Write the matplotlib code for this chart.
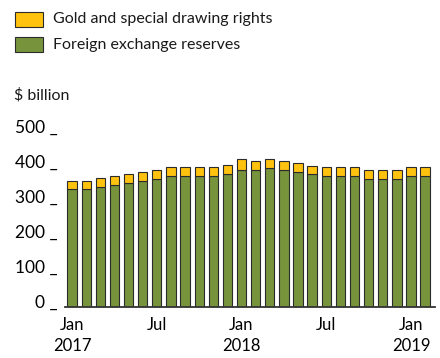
import numpy as np
import matplotlib.pyplot as plt
from matplotlib.patches import Rectangle

# Monthly reserves, Jan 2017 - Feb 2019, $ billion
months = ['Jan 2017', 'Feb', 'Mar', 'Apr', 'May', 'Jun', 'Jul', 'Aug', 'Sep', 'Oct', 'Nov', 'Dec',
          'Jan 2018', 'Feb', 'Mar', 'Apr', 'May', 'Jun', 'Jul', 'Aug', 'Sep', 'Oct', 'Nov', 'Dec',
          'Jan 2019', 'Feb']
forex = [338, 338, 345, 350, 356, 362, 367, 375, 375, 375, 376, 381,
         393, 392, 399, 393, 386, 381, 375, 375, 375, 367, 367, 367,
         375, 375]
gold_sdr = [24, 24, 23, 25, 25, 25, 26, 25, 25, 25, 24, 25,
            30, 26, 25, 25, 25, 23, 25, 25, 25, 26, 26, 26,
            25, 25]
tick_pos = [0, 6, 12, 18, 24]
tick_labels = ['Jan\n2017', 'Jul', 'Jan\n2018', 'Jul', 'Jan\n2019']
yticks = [0, 100, 200, 300, 400, 500]

GREEN = '#77933c'
YELLOW = '#ffc20f'
EDGE = '#2b2b2b'

plt.rcParams['font.family'] = ['Lato', 'DejaVu Sans']
plt.rcParams['text.color'] = '#1a1a1a'


def main():
    fig = plt.figure(figsize=(4.4, 3.58), dpi=100)
    ax = fig.add_axes([65 / 440, 50.7 / 358, 370 / 440, 175 / 358])

    x = np.arange(len(months))
    ax.bar(x, forex, width=0.66, color=GREEN, edgecolor=EDGE, linewidth=0.8)
    ax.bar(x, gold_sdr, bottom=forex, width=0.66, color=YELLOW, edgecolor=EDGE, linewidth=0.8)

    ax.set_xlim(-0.5, 25.7)
    ax.set_ylim(0, 500)

    for s in ['top', 'right', 'left']:
        ax.spines[s].set_visible(False)
    ax.spines['bottom'].set_color('#333333')
    ax.spines['bottom'].set_linewidth(1.3)

    ax.set_xticks(tick_pos)
    ax.set_xticklabels(tick_labels, fontsize=12, linespacing=1.4)
    ax.tick_params(axis='x', length=0, pad=7)

    ax.set_yticks(yticks)
    ax.set_yticklabels([f'{v} _' for v in yticks], fontsize=12.5)
    ax.tick_params(axis='y', length=0, pad=5.5)
    for lab in ax.get_yticklabels():
        lab.set_verticalalignment('baseline')

    # unit label
    fig.text(14 / 440, 1 - 95.5 / 358, '$ billion', fontsize=11.5, va='center', ha='left')

    # legend
    for ypix, col, txt in [(19.5, YELLOW, 'Gold and special drawing rights'),
                           (44.5, GREEN, 'Foreign exchange reserves')]:
        fig.patches.append(Rectangle((15 / 440, 1 - (ypix + 7) / 358), 28 / 440, 14 / 358,
                                     transform=fig.transFigure, facecolor=col,
                                     edgecolor=EDGE, linewidth=0.8))
        fig.text(53 / 440, 1 - ypix / 358, txt, fontsize=11.5, va='center', ha='left')

    fig.savefig('out.png', dpi=100)


if __name__ == "__main__":
    main()
